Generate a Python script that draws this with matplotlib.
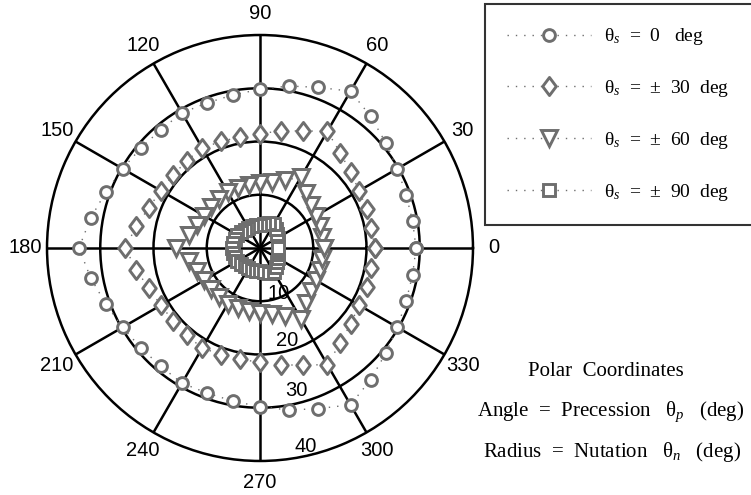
import matplotlib.pyplot as plt
import numpy as np
from matplotlib.path import Path

plt.rcParams['font.family'] = ['Liberation Sans', 'DejaVu Sans']
plt.rcParams['mathtext.fontset'] = 'custom'
plt.rcParams['mathtext.rm'] = 'Liberation Serif'
plt.rcParams['mathtext.it'] = 'Liberation Serif:italic'

# precession angle (deg) and nutation (deg) for each spin angle
precession = [0, 10, 20, 30, 40, 50, 60, 70, 80, 90, 100, 110, 120,
              130, 140, 150, 160, 170, 180, 190, 200, 210, 220, 230, 240,
              250, 260, 270, 280, 290, 300, 310, 320, 330, 340, 350, 360]
nut_0 = [29.3, 29.1, 29.2, 29.8, 30.8, 32.3, 34.0, 32.1, 30.9, 29.8, 29.2, 29.0, 29.3,
         29.0, 29.2, 29.8, 30.8, 32.3, 34.0, 32.3, 30.8, 29.8, 29.2, 29.0, 29.3,
         29.0, 29.2, 29.8, 30.9, 32.1, 34.0, 32.3, 30.8, 29.8, 29.2, 29.1, 29.3]
nut_30 = [21.6, 21.2, 21.3, 21.5, 22.2, 23.4, 25.3, 23.4, 22.3, 21.5, 21.2, 21.3, 21.7,
          21.4, 21.3, 21.5, 22.2, 23.6, 25.3, 23.6, 22.2, 21.5, 21.3, 21.4, 21.7,
          21.3, 21.2, 21.5, 22.3, 23.4, 25.3, 23.4, 22.2, 21.5, 21.3, 21.2, 21.6]
nut_60 = [12.1, 11.9, 11.9, 12.1, 12.6, 13.5, 15.4, 13.5, 12.5, 12.2, 12.0, 11.9, 12.1,
          11.9, 12.0, 12.2, 12.6, 13.6, 15.8, 13.6, 12.6, 12.2, 12.0, 11.9, 12.1,
          11.9, 12.0, 12.2, 12.5, 13.5, 15.4, 13.5, 12.6, 12.1, 11.9, 11.9, 12.1]
nut_90 = [3.3, 3.35, 3.5, 3.8, 4.2, 4.7, 5.2, 4.9, 4.6, 4.4, 4.3, 4.3, 4.4,
          4.5, 4.7, 4.9, 5.0, 5.1, 5.2, 5.1, 5.0, 4.9, 4.7, 4.5, 4.4,
          4.3, 4.3, 4.4, 4.6, 4.9, 5.2, 4.7, 4.2, 3.8, 3.5, 3.35, 3.3]

labels = [r'$\mathrm{\theta}_s$  =  0   deg',
          r'$\mathrm{\theta}_s$  =  ±  30  deg',
          r'$\mathrm{\theta}_s$  =  ±  60  deg',
          r'$\mathrm{\theta}_s$  =  ±  90  deg']
theta_ticks = [0, 30, 60, 90, 120, 150, 180, 210, 240, 270, 300, 330]
r_ticks = [10, 20, 30, 40]
rlabel_r = [8.6, 17.6, 27.1, 37.8]  # where the radius labels sit

gray = '#6e6e6e'
diamond = Path([(0, 1), (0.75, 0), (0, -1), (-0.75, 0), (0, 1)], closed=True)
markers = ['o', diamond, 'v', 's']
sizes = [8.5, 13, 11, 8]

fig = plt.figure(figsize=(7.51, 4.95), dpi=100)
ax = fig.add_axes([0.0626, 0.0687, 0.5672, 0.8606], projection='polar')

th = np.deg2rad(precession)
lines = []
for r, lab, m, ms in zip([nut_0, nut_30, nut_60, nut_90], labels, markers, sizes):
    ln, = ax.plot(th, r, ls=(0, (1, 5)), lw=1, color=gray, marker=m, ms=ms,
                  mew=2.1, mfc='white', mec=gray, label=lab)
    lines.append(ln)

ax.set_ylim(0, 40)
ax.set_xticks(np.deg2rad(theta_ticks))
ax.set_xticklabels([])
ax.set_yticks(r_ticks[:-1])
ax.set_yticklabels([])
ax.grid(True, color='black', lw=1.8, ls='-')
ax.spines['polar'].set_linewidth(1.8)

for t in theta_ticks:
    ax.text(np.deg2rad(t), 44, str(t), ha='center', va='center', fontsize=14.5)
for t, rp in zip(r_ticks, rlabel_r):
    ax.text(np.deg2rad(-80), rp, str(t), ha='left', va='center', fontsize=14.5)

leg = fig.legend(handles=lines, labels=labels, loc='upper left',
                 bbox_to_anchor=(485 / 751, 1 - 4 / 495, 0.45, 0), mode='expand',
                 borderaxespad=0, prop={'family': 'Liberation Serif', 'size': 14},
                 labelspacing=1.58, borderpad=1.15, handlelength=4.3,
                 handletextpad=0.65, numpoints=1, fancybox=False)
leg.get_frame().set_edgecolor('black')
leg.get_frame().set_linewidth(1.5)

serif = {'family': 'Liberation Serif', 'size': 15}
fig.text(606 / 751, 1 - 372 / 495, 'Polar  Coordinates', ha='center', va='center', fontdict=serif)
fig.text(611 / 751, 1 - 412 / 495, r'Angle  =  Precession   $\mathrm{\theta}_p$   (deg)',
         ha='center', va='center', fontdict=serif)
fig.text(612 / 751, 1 - 452 / 495, r'Radius  =  Nutation   $\mathrm{\theta}_n$   (deg)',
         ha='center', va='center', fontdict=serif)

fig.savefig('out.png', dpi=100)
